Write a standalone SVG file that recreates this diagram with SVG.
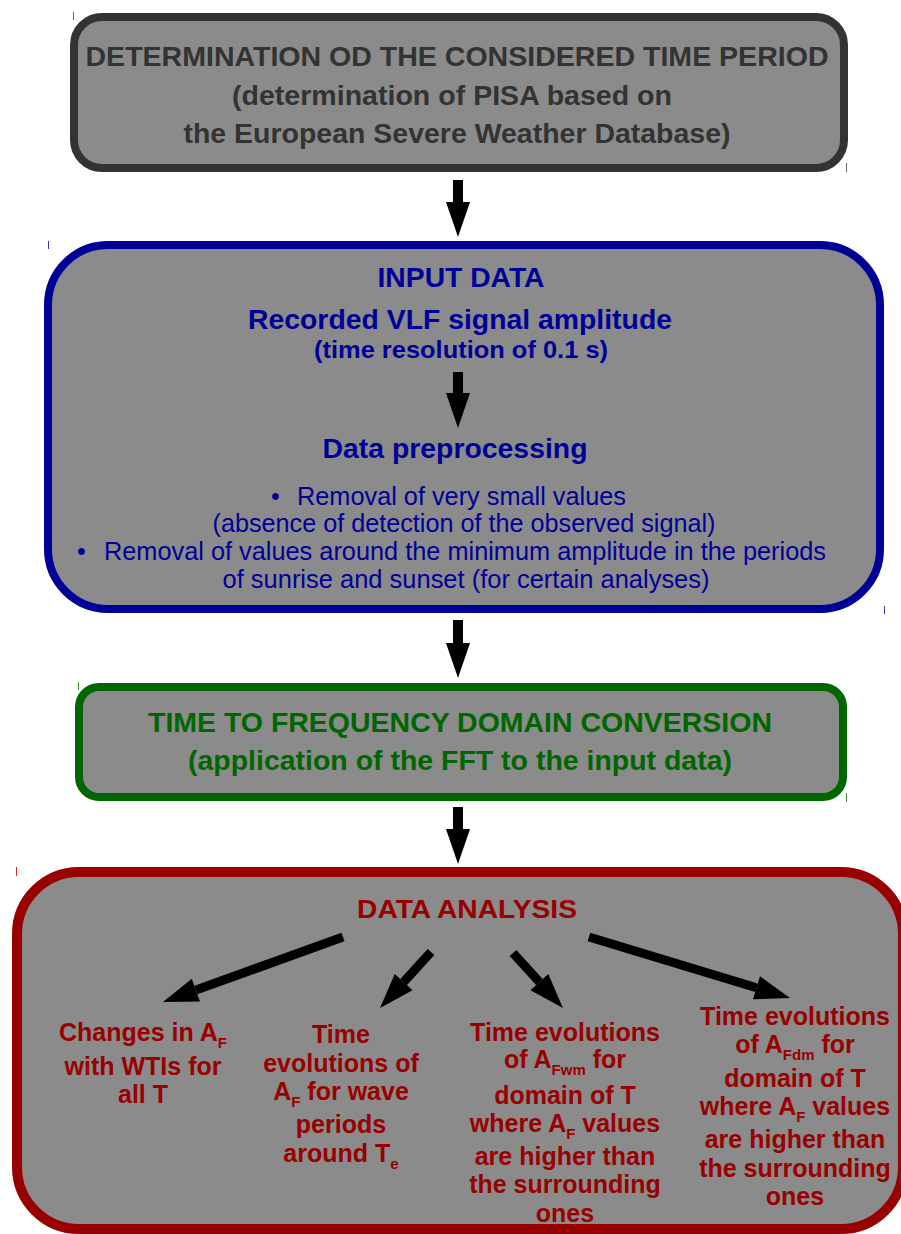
<svg xmlns="http://www.w3.org/2000/svg" width="901" height="1234" viewBox="0 0 901 1234">
<defs>
<marker id="ah" markerUnits="userSpaceOnUse" markerWidth="36" markerHeight="26" refX="0" refY="12" orient="auto" overflow="visible">
<path d="M0,0 L35,12 L0,24 z" fill="#000"/>
</marker>
<style>
.box{fill:#8b8b8b;}
.t{font-family:"Liberation Sans",Arial,sans-serif;font-weight:bold;text-anchor:middle;}
.r{font-family:"Liberation Sans",Arial,sans-serif;font-weight:normal;}
.c{stroke:#000;fill:none;marker-end:url(#ah);}
.tick{stroke-width:1;}
</style>
</defs>
<rect width="901" height="1234" fill="#fff"/>

<g id="node-period">
<rect class="box" x="74" y="17" width="770" height="151" rx="28" stroke="#333333" stroke-width="8"/>
<line class="tick" x1="73.5" y1="12" x2="73.5" y2="20" stroke="#666"/>
<line class="tick" x1="846.5" y1="163" x2="846.5" y2="172" stroke="#666"/>
<g class="t" fill="#333333" font-size="28">
<text x="457" y="66" textLength="743" lengthAdjust="spacingAndGlyphs">DETERMINATION OD THE CONSIDERED TIME PERIOD</text>
<text x="452" y="105" textLength="440" lengthAdjust="spacingAndGlyphs">(determination of PISA based on</text>
<text x="457" y="143" textLength="547" lengthAdjust="spacingAndGlyphs">the European Severe Weather Database)</text>
</g>
</g>

<g id="node-input">
<rect class="box" x="48" y="245" width="832" height="364" rx="60" stroke="#000099" stroke-width="8"/>
<line class="tick" x1="48.5" y1="241" x2="48.5" y2="249" stroke="#3333aa"/>
<line class="tick" x1="884.5" y1="606" x2="884.5" y2="614" stroke="#3333aa"/>
<g class="t" fill="#000099">
<text x="461" y="287" font-size="28" textLength="167" lengthAdjust="spacingAndGlyphs">INPUT DATA</text>
<text x="460" y="329" font-size="28" textLength="424" lengthAdjust="spacingAndGlyphs">Recorded VLF signal amplitude</text>
<text x="461" y="358" font-size="24" textLength="294" lengthAdjust="spacingAndGlyphs">(time resolution of 0.1 s)</text>
<text x="455" y="458" font-size="28" textLength="265" lengthAdjust="spacingAndGlyphs">Data preprocessing</text>
</g>
<g class="r" fill="#000099" font-size="25">
<text x="271" y="505">•</text>
<text x="297" y="505" textLength="329" lengthAdjust="spacingAndGlyphs">Removal of very small values</text>
<text x="464" y="532" text-anchor="middle" textLength="503" lengthAdjust="spacingAndGlyphs">(absence of detection of the observed signal)</text>
<text x="77" y="560">•</text>
<text x="104" y="560" textLength="722" lengthAdjust="spacingAndGlyphs">Removal of values around the minimum amplitude in the periods</text>
<text x="466" y="588" text-anchor="middle" textLength="487" lengthAdjust="spacingAndGlyphs">of sunrise and sunset (for certain analyses)</text>
</g>
</g>

<g id="node-fft">
<rect class="box" x="79" y="687" width="764" height="110" rx="20" stroke="#006600" stroke-width="8"/>
<line class="tick" x1="78.5" y1="682" x2="78.5" y2="690" stroke="#339933"/>
<line class="tick" x1="846.5" y1="793" x2="846.5" y2="802" stroke="#339933"/>
<g class="t" fill="#006600" font-size="28">
<text x="460" y="732" textLength="624" lengthAdjust="spacingAndGlyphs">TIME TO FREQUENCY DOMAIN CONVERSION</text>
<text x="460" y="770" textLength="544" lengthAdjust="spacingAndGlyphs">(application of the FFT to the input data)</text>
</g>
</g>

<g id="node-analysis">
<rect class="box" x="17" y="872" width="886" height="357" rx="62" stroke="#990000" stroke-width="10"/>
<line class="tick" x1="16.5" y1="867" x2="16.5" y2="876" stroke="#cc3333"/>
<g class="t" fill="#990000" font-size="25">
<text x="467" y="918" font-size="26" textLength="220" lengthAdjust="spacingAndGlyphs">DATA ANALYSIS</text>
</g>
</g>

<g id="node-changes" class="t" fill="#990000" font-size="25">
<text x="143" y="1041">Changes in A<tspan font-size="15" dy="7">F</tspan></text>
<text x="143" y="1075">with WTIs for</text>
<text x="143" y="1103">all T</text>
</g>

<g id="node-te" class="t" fill="#990000" font-size="25">
<text x="341" y="1043">Time</text>
<text x="341" y="1072">evolutions of</text>
<text x="341" y="1100">A<tspan font-size="15" dy="7">F</tspan><tspan dy="-7"> for wave</tspan></text>
<text x="341" y="1133">periods</text>
<text x="341" y="1162">around T<tspan font-size="15" dy="7">e</tspan></text>
</g>

<g id="node-fwm" class="t" fill="#990000" font-size="25">
<text x="565" y="1041">Time evolutions</text>
<text x="565" y="1068">of A<tspan font-size="15" dy="7">Fwm</tspan><tspan dy="-7"> for</tspan></text>
<text x="565" y="1104">domain of T</text>
<text x="565" y="1132">where A<tspan font-size="15" dy="7">F</tspan><tspan dy="-7"> values</tspan></text>
<text x="565" y="1165">are higher than</text>
<text x="565" y="1193">the surrounding</text>
<text x="565" y="1222">ones</text>
</g>

<g id="node-fdm" class="t" fill="#990000" font-size="25">
<text x="795" y="1025">Time evolutions</text>
<text x="795" y="1053">of A<tspan font-size="15" dy="7">Fdm</tspan><tspan dy="-7"> for</tspan></text>
<text x="795" y="1087">domain of T</text>
<text x="795" y="1115">where A<tspan font-size="15" dy="7">F</tspan><tspan dy="-7"> values</tspan></text>
<text x="795" y="1148">are higher than</text>
<text x="795" y="1177">the surrounding</text>
<text x="795" y="1205">ones</text>
</g>

<g id="connectors">
<line class="c" x1="458" y1="180" x2="458" y2="202" stroke-width="10"/>
<line class="c" x1="458" y1="372" x2="458" y2="393" stroke-width="10"/>
<line class="c" x1="458" y1="620" x2="458" y2="643" stroke-width="10"/>
<line class="c" x1="458" y1="807" x2="458" y2="829" stroke-width="10"/>
<line class="c" x1="343" y1="937" x2="195.9" y2="990.1" stroke-width="9"/>
<line class="c" x1="431" y1="952" x2="403.6" y2="982.1" stroke-width="9"/>
<line class="c" x1="513" y1="953" x2="539.4" y2="982.1" stroke-width="9"/>
<line class="c" x1="589" y1="937" x2="756.5" y2="987.8" stroke-width="9"/>
</g>
</svg>
